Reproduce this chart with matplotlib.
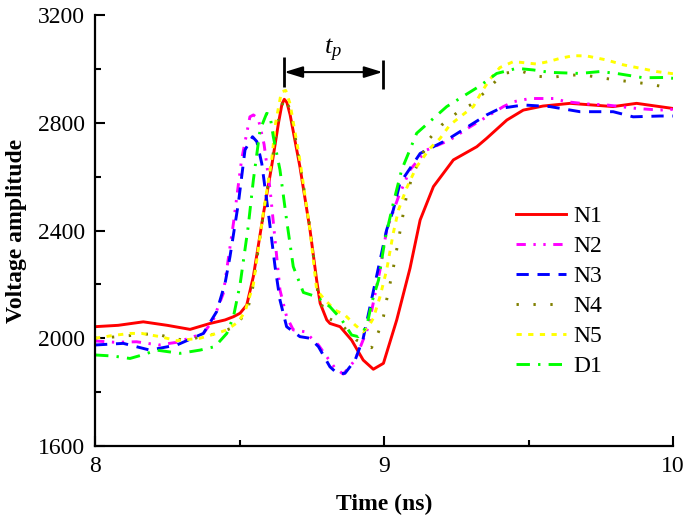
import matplotlib
matplotlib.use("Agg")
import matplotlib.pyplot as plt
from matplotlib.ticker import MultipleLocator

# ── data ─────────────────────────────────────────────────────────────────────
t_n1 = [8.0, 8.08, 8.167, 8.25, 8.329, 8.398, 8.45, 8.479, 8.502, 8.525, 8.548,
        8.583, 8.611, 8.635, 8.647, 8.655, 8.664, 8.675, 8.709, 8.744, 8.767,
        8.779, 8.802, 8.813, 8.848, 8.888, 8.928, 8.963, 8.998, 9.044, 9.09,
        9.125, 9.171, 9.24, 9.321, 9.355, 9.425, 9.482, 9.55, 9.644, 9.72,
        9.793, 9.874, 9.94, 10.0]
v_n1 = [2043, 2048, 2061, 2048, 2033, 2055, 2068, 2080, 2093, 2123, 2230,
        2464, 2637, 2800, 2870, 2887, 2875, 2830, 2637, 2402, 2215,
        2130, 2068, 2055, 2043, 1993, 1919, 1885, 1907, 2068, 2260,
        2439, 2563, 2662, 2711, 2742, 2810, 2847, 2862, 2872, 2866,
        2860, 2872, 2862, 2853]

t_n2 = [8.0, 8.07, 8.144, 8.22, 8.283, 8.375, 8.409, 8.444, 8.479, 8.507,
        8.536, 8.548, 8.565, 8.585, 8.606, 8.623, 8.64, 8.663, 8.686, 8.727,
        8.773, 8.802, 8.83, 8.859, 8.9, 8.946, 8.986, 9.009, 9.05, 9.09,
        9.148, 9.228, 9.298, 9.355, 9.413, 9.448, 9.505, 9.586, 9.632, 9.7,
        9.77, 9.874, 9.955, 10.0]
v_n2 = [1990, 1985, 1987, 1975, 1985, 2018, 2068, 2167, 2427, 2662,
        2822, 2829, 2815, 2720, 2550, 2365, 2179, 2080, 2031, 2024,
        1975, 1931, 1890, 1867, 1919, 2043, 2253, 2402, 2525, 2625,
        2699, 2736, 2785, 2822, 2860, 2878, 2890, 2890, 2878, 2870,
        2866, 2853, 2847, 2850]

t_n3 = [8.0, 8.098, 8.19, 8.283, 8.375, 8.421, 8.45, 8.467, 8.496, 8.519,
        8.545, 8.56, 8.577, 8.6, 8.623, 8.64, 8.663, 8.709, 8.744, 8.773,
        8.813, 8.84, 8.865, 8.9, 8.928, 8.969, 9.009, 9.032, 9.055, 9.125,
        9.217, 9.309, 9.355, 9.401, 9.482, 9.574, 9.678, 9.793, 9.862, 9.955,
        10.0]
v_n3 = [1975, 1981, 1956, 1975, 2018, 2099, 2204, 2303, 2501, 2699,
        2748, 2730, 2649, 2464, 2266, 2142, 2043, 2006, 2000, 1969,
        1894, 1868, 1870, 1919, 2000, 2204, 2402, 2476, 2575, 2686,
        2736, 2798, 2829, 2853, 2866, 2860, 2841, 2841, 2822, 2825,
        2825]

t_n4 = [8.0, 8.046, 8.12, 8.208, 8.265, 8.323, 8.363, 8.427, 8.484, 8.525,
        8.542, 8.583, 8.611, 8.635, 8.655, 8.675, 8.709, 8.744, 8.773, 8.807,
        8.848, 8.905, 8.957, 8.981, 8.998, 9.009, 9.032, 9.052, 9.078, 9.101,
        9.13, 9.153, 9.2, 9.257, 9.309, 9.361, 9.413, 9.471, 9.528, 9.58,
        9.638, 9.69, 9.747, 9.805, 9.857, 9.914, 9.966, 10.0]
v_n4 = [2000, 2003, 2010, 2018, 2000, 1991, 2006, 2018, 2043, 2099,
        2161, 2464, 2650, 2810, 2895, 2850, 2650, 2410, 2150, 2074,
        2055, 1993, 1965, 2024, 2080, 2142, 2260, 2377, 2530, 2612,
        2674, 2736, 2792, 2841, 2872, 2927, 2983, 2993, 2973, 2968,
        2977, 2977, 2968, 2958, 2952, 2944, 2934, 2930]

t_n5 = [8.0, 8.06, 8.121, 8.161, 8.225, 8.283, 8.363, 8.421, 8.456, 8.496,
        8.519, 8.548, 8.583, 8.611, 8.625, 8.645, 8.66, 8.675, 8.709, 8.744,
        8.767, 8.796, 8.83, 8.865, 8.9, 8.928, 8.946, 8.963, 8.986, 9.009,
        9.032, 9.05, 9.078, 9.113, 9.159, 9.194, 9.228, 9.309, 9.338, 9.367,
        9.401, 9.448, 9.528, 9.569, 9.609, 9.655, 9.701, 9.77, 9.828, 9.874,
        9.943, 10.0]
v_n5 = [2000, 2010, 2018, 2018, 2006, 1991, 2000, 2018, 2031, 2061,
        2099, 2200, 2470, 2660, 2800, 2915, 2920, 2870, 2660, 2400,
        2179, 2142, 2105, 2086, 2049, 2024, 2043, 2074, 2154, 2253,
        2390, 2476, 2557, 2637, 2705, 2742, 2792, 2860, 2915, 2962,
        3005, 3027, 3018, 3027, 3039, 3049, 3048, 3033, 3015, 3005,
        2990, 2982]

t_d1 = [8.0, 8.063, 8.121, 8.17, 8.213, 8.294, 8.363, 8.415, 8.456, 8.479,
        8.502, 8.53, 8.548, 8.571, 8.594, 8.605, 8.617, 8.64, 8.663, 8.686,
        8.721, 8.767, 8.813, 8.854, 8.888, 8.911, 8.94, 8.957, 8.981, 9.003,
        9.032, 9.061, 9.113, 9.217, 9.332, 9.39, 9.459, 9.517, 9.574, 9.678,
        9.747, 9.805, 9.897, 9.966, 10.0]
v_d1 = [1938, 1934, 1925, 1940, 1956, 1944, 1956, 1969, 2018, 2080,
        2200, 2414, 2588, 2773, 2835, 2830, 2748, 2625, 2439, 2266,
        2170, 2154, 2117, 2068, 2012, 2006, 2043, 2130, 2216, 2365,
        2501, 2625, 2761, 2860, 2937, 2983, 3002, 2996, 2987, 2983,
        2990, 2983, 2967, 2968, 2965]

labels = ["N1", "N2", "N3", "N4", "N5", "D1"]

# t_p marker: from N1 peak to the N1 trough
TP_START, TP_END, TP_LEVEL = 8.655, 8.995, 2988

# ── style ────────────────────────────────────────────────────────────────────
plt.rcParams["font.family"] = ["Liberation Serif", "DejaVu Serif"]
plt.rcParams["mathtext.fontset"] = "custom"
plt.rcParams["mathtext.it"] = "Liberation Serif:italic"
plt.rcParams["mathtext.rm"] = "Liberation Serif"
FS = 17

series = [
    (t_n1, v_n1, "#ff0000", "-"),
    (t_n2, v_n2, "#ff00ff", (0, (3.2, 2.6, 0.8, 2.6, 0.8, 2.6))),
    (t_n3, v_n3, "#0000ff", (0, (4.2, 3.0))),
    (t_n4, v_n4, "#808000", (0, (0.8, 5.0))),
    (t_n5, v_n5, "#ffff00", (0, (1.8, 2.2))),
    (t_d1, v_d1, "#00ff00", (0, (4.6, 2.8, 0.8, 2.8))),
]

fig = plt.figure(figsize=(6.85, 5.17), dpi=100)
ax = fig.add_axes([0.1387, 0.1373, 0.8438, 0.8337])

for (t, v, c, ls), lab in zip(series, labels):
    ax.plot(t, v, color=c, linestyle=ls, lw=2.1, label=lab)

ax.set_xlim(8, 10)
ax.set_ylim(1600, 3200)
ax.xaxis.set_major_locator(MultipleLocator(1))
ax.xaxis.set_minor_locator(MultipleLocator(0.5))
ax.yaxis.set_major_locator(MultipleLocator(400))
ax.yaxis.set_minor_locator(MultipleLocator(200))
ax.tick_params(which="both", direction="in", width=1.5, labelsize=FS, pad=7)
ax.tick_params(which="major", length=7)
ax.tick_params(which="minor", length=4)
for s in ["top", "right"]:
    ax.spines[s].set_visible(False)
for s in ["left", "bottom"]:
    ax.spines[s].set_linewidth(1.6)

ax.set_xlabel("Time (ns)", fontsize=FS, fontweight="bold", labelpad=12)
ax.set_ylabel("Voltage amplitude", fontsize=FS, fontweight="bold", labelpad=8)

# t_p annotation
ax.vlines(TP_START, 2933, 3044, color="black", lw=2)
ax.vlines(TP_END, 2925, 3033, color="black", lw=2)
ax.annotate("", xy=(TP_START, TP_LEVEL), xytext=(TP_END, TP_LEVEL),
            arrowprops=dict(arrowstyle="<|-|>,head_length=0.55,head_width=0.17",
                            mutation_scale=20, color="black", lw=1.5,
                            shrinkA=0, shrinkB=0))
ax.text((TP_START + TP_END) / 2, 3068, r"$t_p$", fontsize=FS + 2,
        ha="center", va="center")

ax.legend(loc="upper left", bbox_to_anchor=(0.729, 0.558), frameon=False,
          fontsize=FS, handlelength=2.1, handletextpad=0.3, labelspacing=0.36,
          borderaxespad=0, borderpad=0)

fig.savefig("out.png", dpi=100)
